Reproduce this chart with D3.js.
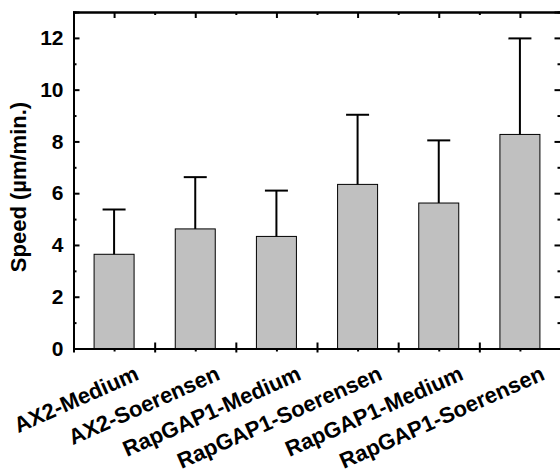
<!DOCTYPE html>
<html><head><meta charset="utf-8">
<script src="https://cdn.jsdelivr.net/npm/d3@7"></script>
<style>body{margin:0;background:#fff}svg{display:block}text{font-family:"Liberation Sans",Arial,sans-serif;font-weight:bold}</style>
</head><body>
<svg id="c" width="560" height="476"></svg>
<script>
const categories = ["AX2-Medium","AX2-Soerensen","RapGAP1-Medium","RapGAP1-Soerensen","RapGAP1-Medium","RapGAP1-Soerensen"];
const speeds = [3.64, 4.62, 4.33, 6.34, 5.62, 8.27];
const errors = [1.73, 2.0, 1.77, 2.69, 2.42, 3.71];
const yTicks = [0,2,4,6,8,10,12];
const yMinor = [1,3,5,7,9,11];

const svg = d3.select("#c");
const L = 73.5, R = 560.5, T = 12, B = 348.5;
const idx = d3.range(categories.length);
const x = d3.scaleLinear().domain([0.5, categories.length + 0.5]).range([L, R]);
const y = d3.scaleLinear().domain([0, 13]).range([B, T]);
const bw = 40;

// bars
svg.append("g").selectAll("rect").data(idx).join("rect")
  .attr("x", i => x(i+1) - bw/2).attr("width", bw)
  .attr("y", i => y(speeds[i])).attr("height", i => y(0) - y(speeds[i]))
  .attr("fill", "#c0c0c0").attr("stroke", "#000").attr("stroke-width", 1);

// error bars
const eg = svg.append("g").attr("stroke", "#000").attr("stroke-width", 2);
eg.selectAll("line.v").data(idx).join("line").attr("class","v")
  .attr("x1", i => x(i+1)).attr("x2", i => x(i+1))
  .attr("y1", i => y(speeds[i])).attr("y2", i => y(speeds[i] + errors[i]));
eg.selectAll("line.c").data(idx).join("line").attr("class","c")
  .attr("x1", i => x(i+1) - 11.5).attr("x2", i => x(i+1) + 11.5)
  .attr("y1", i => y(speeds[i] + errors[i])).attr("y2", i => y(speeds[i] + errors[i]));

// axes
const boundaries = d3.range(1, categories.length).map(v => v + 0.5);
const centers = idx.map(i => i + 1);

const left = svg.append("g").attr("transform", `translate(${L},0)`)
  .call(d3.axisLeft(y).tickValues(yTicks).tickSize(-6).tickPadding(10).tickFormat(d3.format("d")));
left.selectAll("text").attr("font-size", 21).attr("fill","#000");
svg.append("g").attr("transform", `translate(${L},0)`)
  .call(d3.axisLeft(y).tickValues(yMinor).tickSize(-3).tickFormat(""));

svg.append("g").attr("transform", `translate(${R},0)`)
  .call(d3.axisRight(y).tickValues(yTicks).tickSize(-6).tickFormat(""));
svg.append("g").attr("transform", `translate(${R},0)`)
  .call(d3.axisRight(y).tickValues(yMinor).tickSize(-3).tickFormat(""));

svg.append("g").attr("transform", `translate(0,${T})`)
  .call(d3.axisTop(x).tickValues(centers).tickSize(-6).tickFormat(""));
svg.append("g").attr("transform", `translate(0,${T})`)
  .call(d3.axisTop(x).tickValues(boundaries).tickSize(-3).tickFormat(""));

svg.append("g").attr("transform", `translate(0,${B})`)
  .call(d3.axisBottom(x).tickValues(boundaries).tickSize(4).tickFormat(""));
svg.append("g").attr("transform", `translate(0,${B})`)
  .call(d3.axisBottom(x).tickValues(boundaries).tickSize(-6).tickFormat(""));
svg.append("g").attr("transform", `translate(0,${B})`)
  .call(d3.axisBottom(x).tickValues(centers).tickSize(3).tickFormat(""));

svg.selectAll(".domain").attr("stroke-width", 2).attr("stroke","#000");
svg.selectAll(".tick line").attr("stroke-width", 2).attr("stroke","#000");

// x labels
svg.append("g").selectAll("text").data(idx).join("text")
  .attr("transform", i => `translate(${x(i+1) + 26},${379}) rotate(-24)`)
  .attr("text-anchor", "end").attr("font-size", 22).attr("fill","#000")
  .text(i => categories[i]);

// y title
svg.append("text")
  .attr("transform", `translate(26,187) rotate(-90)`)
  .attr("text-anchor", "middle").attr("font-size", 22).attr("fill","#000")
  .text("Speed (µm/min.)");
</script>
</body></html>
